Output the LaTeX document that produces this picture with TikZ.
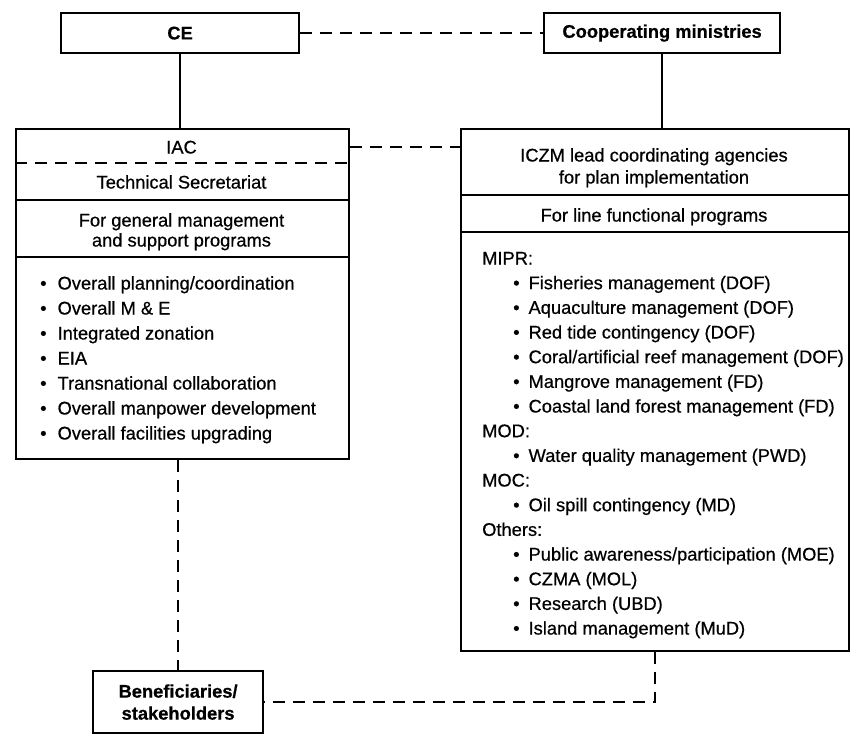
\documentclass[tikz,border=0pt]{standalone}
\usepackage{fontspec}
\setmainfont{Liberation Sans}
% slightly heavier face for all labels
\newfontfamily\labelfont{Liberation Sans}[FakeBold=0.6]
\begin{document}
\begin{tikzpicture}[x=1pt,y=-1pt,
  every node/.style={font=\labelfont\fontsize{18.3pt}{22pt}\selectfont, inner sep=0pt},
  box/.style={draw, line width=2.2pt, anchor=north west, align=center},
  conn/.style={line width=1.9pt},
  dsh/.style={line width=1.9pt, dash pattern=on 12pt off 8pt},
  rule/.style={line width=1.9pt},
  txt/.style={anchor=base},
  item/.style={anchor=base west}]
\useasboundingbox (0,0) rectangle (859,734);

% top row
\node[box, minimum width=238pt, minimum height=40pt] (ce) at (60,12) {\bfseries CE};
\node[box, minimum width=236pt, minimum height=40pt] (coop) at (543,12) {\bfseries Cooperating ministries};

% main boxes
\node[box, minimum width=333pt, minimum height=330pt] (lbox) at (15,128) {};
\node[box, minimum width=388pt, minimum height=522pt] (rbox) at (460,128) {};

% bottom box
\node[box, minimum width=170pt, minimum height=62pt] (ben) at (92,670)
  {\bfseries Beneficiaries/\\\bfseries stakeholders};

% left box header rows
\coordinate (ly1) at (0,163);
\coordinate (ly2) at (0,200);
\coordinate (ly3) at (0,257);
\draw[dsh] (lbox.west |- ly1) -- (lbox.east |- ly1);
\draw[rule] (lbox.west |- ly2) -- (lbox.east |- ly2);
\draw[rule] (lbox.west |- ly3) -- (lbox.east |- ly3);
\node[txt] (iac) at (181.5,153.5) {IAC};
\node[txt] (ts) at (181.5,188.5) {Technical Secretariat};
\node[txt] (gm1) at (181.5,226.5) {For general management};
\node[txt] (gm2) at (181.5,246.5) {and support programs};

% right box header rows
\coordinate (ry1) at (0,195);
\coordinate (ry2) at (0,232);
\draw[rule] (rbox.west |- ry1) -- (rbox.east |- ry1);
\draw[rule] (rbox.west |- ry2) -- (rbox.east |- ry2);
\node[txt] (lc1) at (654,161.5) {ICZM lead coordinating agencies};
\node[txt] (lc2) at (654,183.5) {for plan implementation};
\node[txt] (lf) at (654,221.5) {For line functional programs};

% left list
\foreach \t [count=\i] in {Overall planning/coordination, Overall M \& E,
  Integrated zonation, EIA, Transnational collaboration,
  Overall manpower development, Overall facilities upgrading}
  \node[item] (la\i) at (40,{289.5+25*(\i-1)}) {\textbullet\hspace{11pt}\t};

% right list: ministry headings
\foreach \n/\t in {0/MIPR:, 7/MOD:, 9/MOC:, 11/Others:}
  \node[item] (rh\n) at (482,{264.5+24.67*\n}) {\t};

% right list: programs
\foreach \n/\t in {1/Fisheries management (DOF), 2/Aquaculture management (DOF),
  3/Red tide contingency (DOF), 4/{Coral/artificial reef management (DOF)},
  5/Mangrove management (FD), 6/Coastal land forest management (FD),
  8/Water quality management (PWD), 10/Oil spill contingency (MD),
  12/{Public awareness/participation (MOE)}, 13/CZMA (MOL),
  14/Research (UBD), 15/Island management (MuD)}
  \node[item] (rb\n) at (513,{264.5+24.67*\n}) {\textbullet\hspace{9pt}\t};

% connectors
\draw[conn] (ce.south) -- (ce.south |- lbox.north);
\draw[conn] (coop.south) -- (coop.south |- rbox.north);
\draw[dsh] (ce.east) -- (coop.west);
\draw[dsh] (lbox.east |- iac) -- (rbox.west |- iac);
\draw[dsh] (ben.north |- lbox.south) -- (ben.north);
\draw[dsh] (rbox.south) |- (ben.east);
\end{tikzpicture}
\end{document}
